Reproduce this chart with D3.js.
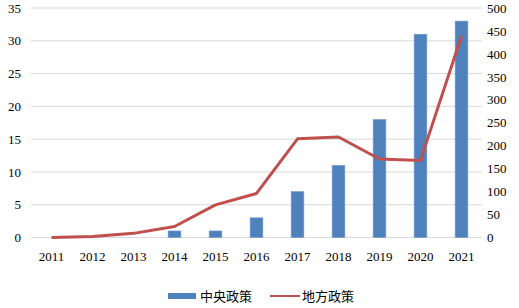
<!DOCTYPE html>
<html>
<head>
<meta charset="utf-8">
<script src="https://cdn.jsdelivr.net/npm/d3@7"></script>
<style>
  body { margin: 0; background: #fff; }
  svg text { font-family: "Liberation Serif", "Times New Roman", serif; font-size: 13px; fill: #000; }
  svg text.cjk { font-family: "Noto Sans CJK SC", sans-serif; font-size: 13px; }
</style>
</head>
<body>
<div id="chart"></div>
<script>
// data
let years = ["2011", "2012", "2013", "2014", "2015", "2016", "2017", "2018", "2019", "2020", "2021"];
let central = [0, 0, 0, 1, 1, 3, 7, 11, 18, 31, 33];
let local = [0, 2, 9, 24, 71, 96, 215, 219, 171, 168, 439];
let leftTicks = [0, 5, 10, 15, 20, 25, 30, 35];
let rightTicks = [0, 50, 100, 150, 200, 250, 300, 350, 400, 450, 500];
let seriesNames = ["中央政策", "地方政策"];

let width = 519, height = 308;
let margin = {top: 8, right: 37, bottom: 70.5, left: 31};
let w = width - margin.left - margin.right;
let h = height - margin.top - margin.bottom;

let svg = d3.select("#chart").append("svg")
    .attr("width", width)
    .attr("height", height);

let g = svg.append("g")
    .attr("transform", "translate(" + margin.left + "," + margin.top + ")");

// scales
let x = d3.scaleBand().domain(years).range([0, w]).paddingInner(0.69).paddingOuter(0.345);
let xc = d3.scaleBand().domain(years).range([0, w]);
let yL = d3.scaleLinear().domain([0, 35]).range([h, 0]);
let yR = d3.scaleLinear().domain([0, 500]).range([h, 0]);

// gridlines
g.selectAll(".grid")
    .data(leftTicks)
    .enter().append("line")
    .attr("class", "grid")
    .attr("x1", 0).attr("x2", w)
    .attr("y1", d => yL(d)).attr("y2", d => yL(d))
    .attr("stroke", "#d9d9d9")
    .attr("stroke-width", 1);

// left axis
let leftAxis = g.append("g")
    .call(d3.axisLeft(yL).tickValues(leftTicks).tickSize(0).tickPadding(10));

// right axis
let rightAxis = g.append("g")
    .attr("transform", "translate(" + w + ",0)")
    .call(d3.axisRight(yR).tickValues(rightTicks).tickSize(0).tickPadding(5));

// x axis
let xAxis = g.append("g")
    .attr("transform", "translate(0," + h + ")")
    .call(d3.axisBottom(xc).tickSize(0).tickPadding(14));

[leftAxis, rightAxis, xAxis].forEach(a => {
    a.select(".domain").remove();
    a.attr("font-family", null).attr("font-size", null);
    a.selectAll("text").attr("fill", "#000");
});

// bars
g.selectAll(".bar")
    .data(central)
    .enter().append("rect")
    .attr("class", "bar")
    .attr("x", (d, i) => x(years[i]))
    .attr("width", x.bandwidth())
    .attr("y", d => yL(d))
    .attr("height", d => h - yL(d))
    .attr("fill", "#4f81bd")
    .attr("stroke", "#6f9bd0")
    .attr("stroke-width", 0.6);

// line
let line = d3.line()
    .x((d, i) => xc(years[i]) + xc.bandwidth() / 2)
    .y(d => yR(d));

g.append("path")
    .datum(local)
    .attr("d", line)
    .attr("fill", "none")
    .attr("stroke", "#c0504d")
    .attr("stroke-width", 3)
    .attr("stroke-linejoin", "round");

// legend
let legend = svg.append("g");
legend.append("rect")
    .attr("x", 168).attr("y", 293)
    .attr("width", 28).attr("height", 6)
    .attr("fill", "#4f81bd");
legend.append("text")
    .attr("class", "cjk")
    .attr("x", 200).attr("y", 301)
    .text(seriesNames[0]);
legend.append("line")
    .attr("x1", 270).attr("x2", 300)
    .attr("y1", 296).attr("y2", 296)
    .attr("stroke", "#c0504d")
    .attr("stroke-width", 2);
legend.append("text")
    .attr("class", "cjk")
    .attr("x", 302).attr("y", 301)
    .text(seriesNames[1]);
</script>
</body>
</html>
